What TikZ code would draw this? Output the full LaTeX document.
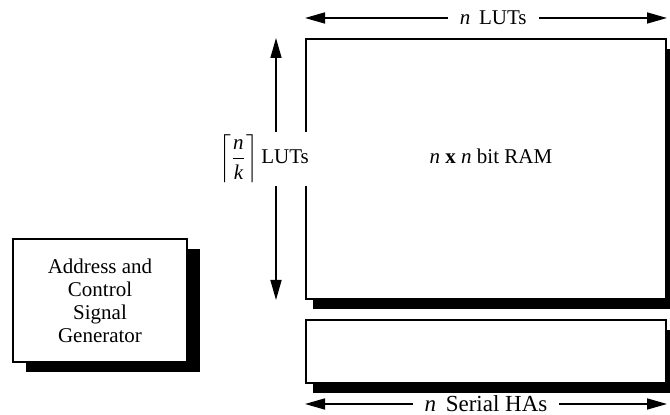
\documentclass[tikz,border=0pt]{standalone}
\usepackage{fontspec}
\setmainfont{Liberation Serif}
\usetikzlibrary{positioning,calc,arrows.meta,shadows}

\begin{document}
\begin{tikzpicture}[x=0.5pt,y=-0.5pt,
    box/.style={draw, line width=1pt, fill=white, inner sep=0pt,
        drop shadow={shadow xshift=#1, shadow yshift=-5pt, fill=black, opacity=1}},
    box/.default=3.5pt,
    dim/.style={{Triangle[length=10pt,width=5.5pt]}-{Triangle[length=10pt,width=5.5pt]}, line width=0.8pt},
    lbl/.style={fill=white, inner sep=1.5pt},
    every node/.style={font=\fontsize{10.5}{11.5}\selectfont}
]
    \useasboundingbox (0,0) rectangle (670,415);

    % memory and half adders
    \node[box, anchor=north west, minimum width=180pt, minimum height=130pt] (ram) at (305,38) {};
    \node[box, below=9.5pt of ram, minimum width=180pt, minimum height=31.5pt] (has) {};
    \node[above right=6.5pt and 2.5pt of ram.center, anchor=center] (ramlbl) {\textit{n} \textbf{x} \textit{n} bit RAM};

    % generator
    \node[box=6.5pt, anchor=north west, minimum width=87pt, minimum height=61.5pt, align=center] (gen) at (12,238)
        {Address and\\Control\\Signal\\Generator};

    % dimension arrows
    \coordinate (vtop) at ([xshift=-14.5pt]ram.north west);
    \coordinate (vbot) at ([xshift=-14.5pt]ram.south west);
    \coordinate (tleft) at ([yshift=10pt]ram.north west);
    \coordinate (tright) at ([yshift=10pt]ram.north east);
    \coordinate (bleft) at ([yshift=-10pt]has.south west);
    \coordinate (bright) at ([yshift=-10pt]has.south east);

    \draw[dim] (vtop) -- (vbot) node[lbl, pos=0.46, xshift=-6pt, inner xsep=0.5pt] (vlbl)
        {$\left\lceil\displaystyle\frac{\textit{n}}{\textit{k}}\right\rceil$\,LUTs};
    \draw[dim] (tleft) -- (tright) node[lbl, pos=0.52, inner xsep=6pt] (tlbl) {\textit{n}\, LUTs};
    \draw[dim] (bleft) -- (bright) node[lbl, pos=0.5, inner xsep=6pt, font=\fontsize{11.5}{13}\selectfont] (blbl)
        {\textit{n}\, Serial HAs};
\end{tikzpicture}
\end{document}
